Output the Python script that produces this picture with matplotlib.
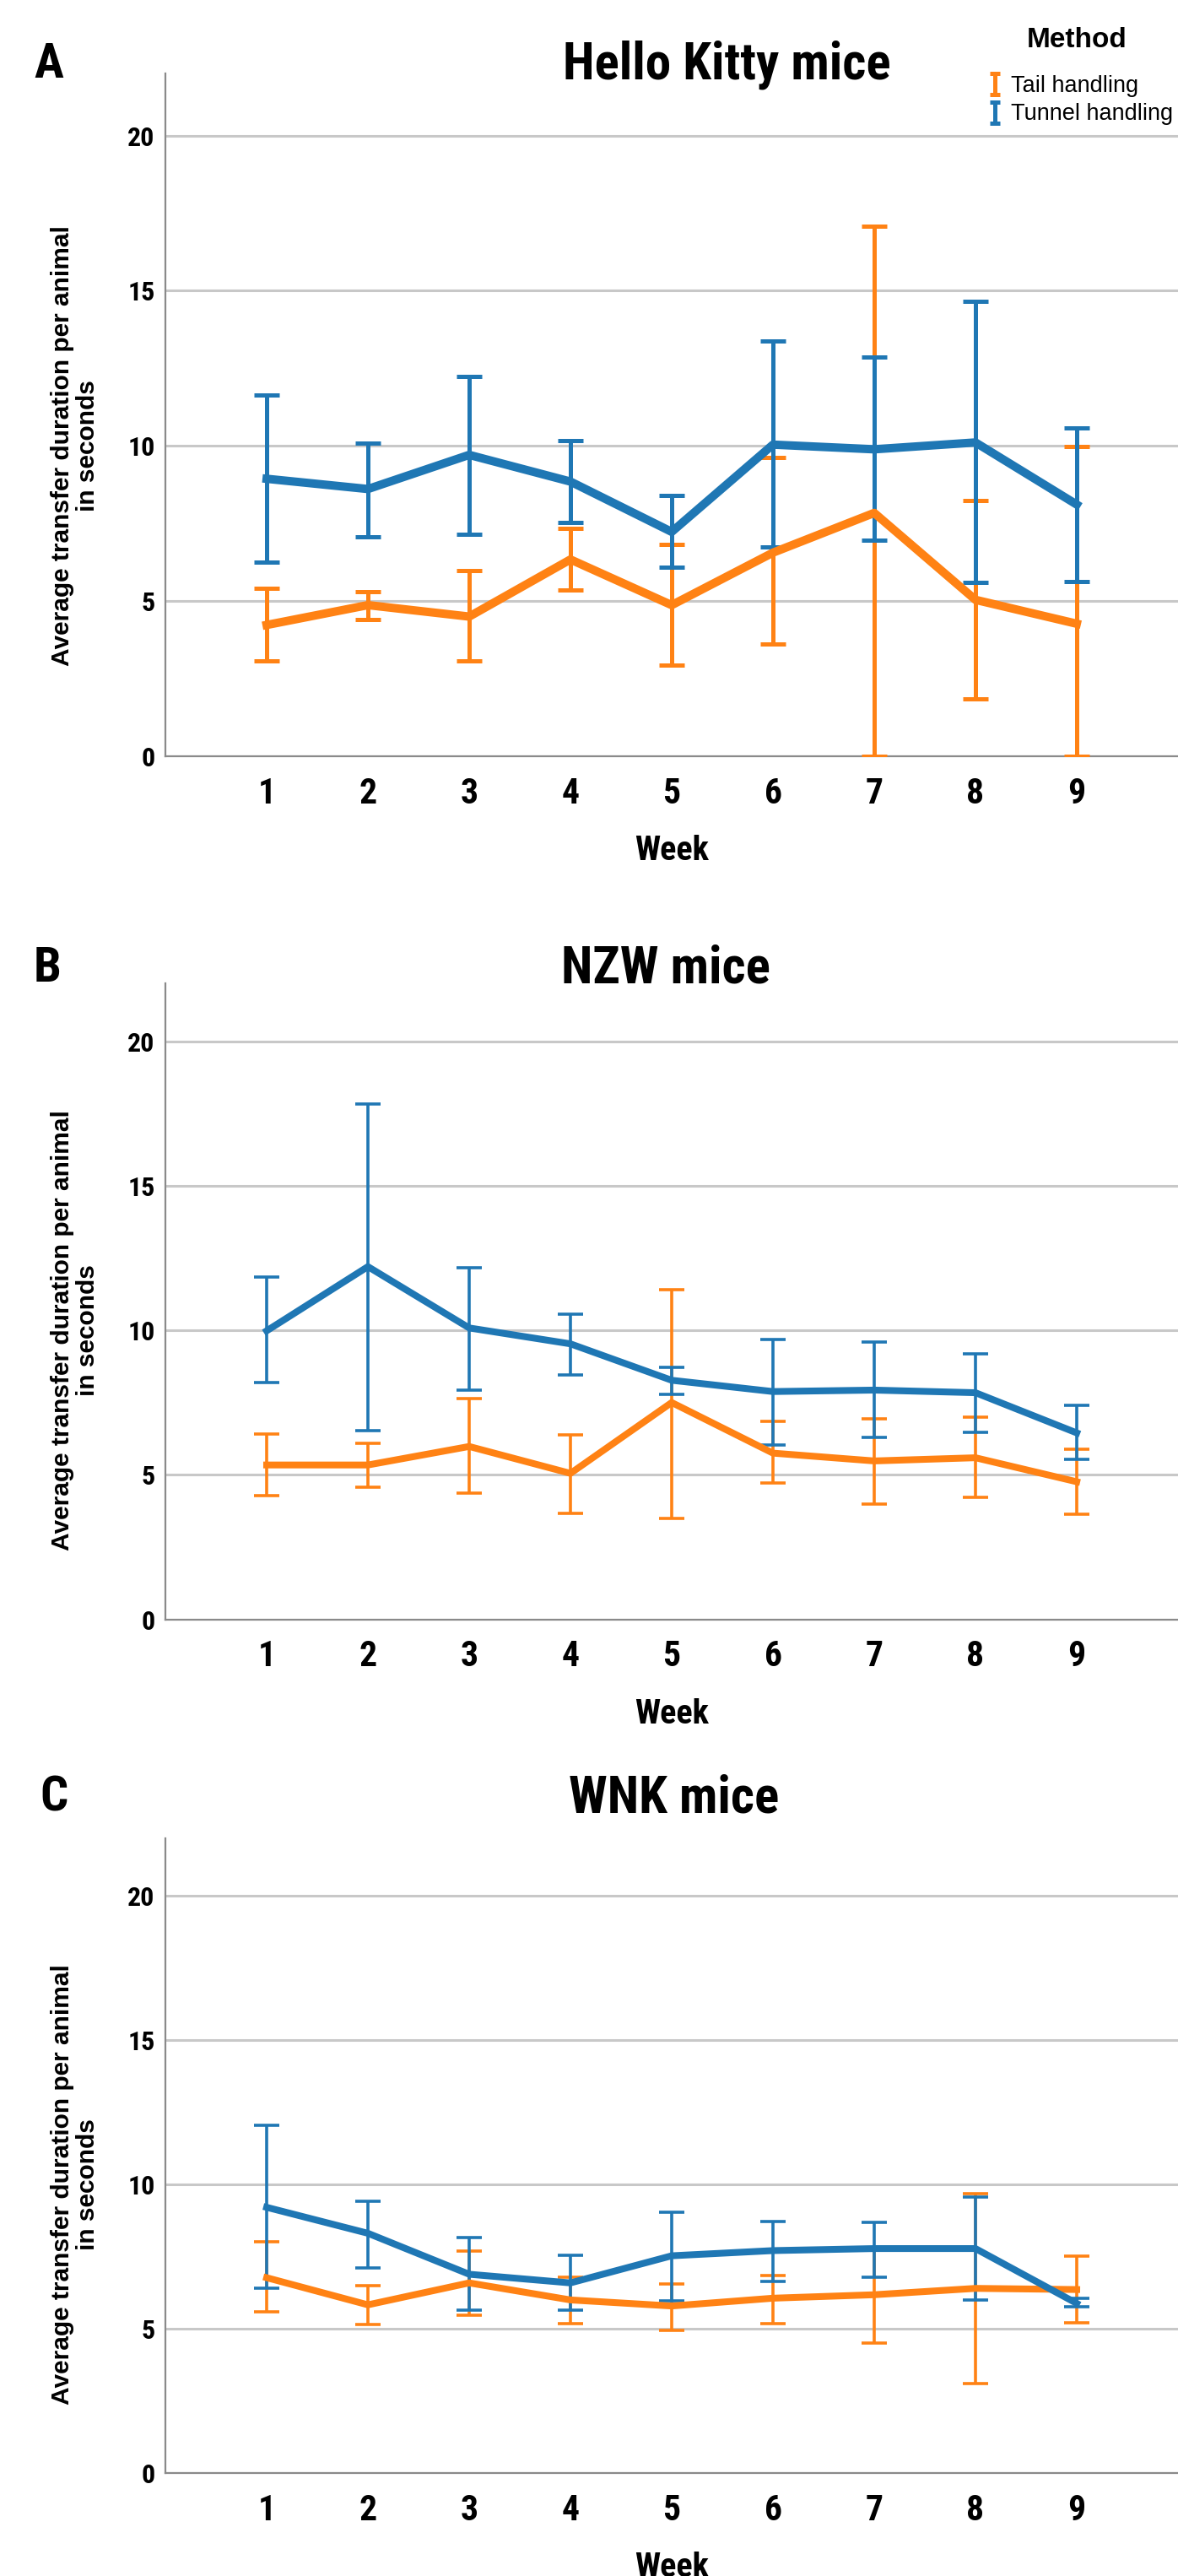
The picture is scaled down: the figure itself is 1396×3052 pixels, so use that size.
import os
import numpy as np
import matplotlib
matplotlib.use("Agg")
from matplotlib import pyplot as plt
from matplotlib import font_manager
from matplotlib.font_manager import FontProperties
from matplotlib.path import Path
from matplotlib.lines import Line2D

# Weeks on the x axis
weeks = [1, 2, 3, 4, 5, 6, 7, 8, 9]

# Panel A - Hello Kitty mice
hk_tail_mean = [4.23, 4.87, 4.50, 6.34, 4.87, 6.56, 7.84, 5.04, 4.27]
hk_tail_low = [3.08, 4.40, 3.08, 5.35, 2.93, 3.61, 0.00, 1.85, 0.00]
hk_tail_high = [5.40, 5.31, 5.97, 7.33, 6.83, 9.62, 17.09, 8.24, 9.98]
hk_tunnel_mean = [8.94, 8.61, 9.71, 8.85, 7.23, 10.04, 9.89, 10.11, 8.11]
hk_tunnel_low = [6.25, 7.07, 7.14, 7.53, 6.10, 6.74, 6.96, 5.59, 5.62]
hk_tunnel_high = [11.63, 10.09, 12.23, 10.16, 8.39, 13.37, 12.86, 14.65, 10.59]

# Panel B - NZW mice
nzw_tail_mean = [5.34, 5.34, 5.98, 5.05, 7.50, 5.75, 5.48, 5.59, 4.76]
nzw_tail_low = [4.27, 4.58, 4.37, 3.68, 3.49, 4.72, 4.00, 4.23, 3.63]
nzw_tail_high = [6.41, 6.08, 7.64, 6.37, 11.40, 6.84, 6.94, 7.00, 5.89]
nzw_tunnel_mean = [9.98, 12.20, 10.08, 9.53, 8.27, 7.88, 7.93, 7.84, 6.45]
nzw_tunnel_low = [8.19, 6.53, 7.93, 8.46, 7.78, 6.02, 6.28, 6.47, 5.54]
nzw_tunnel_high = [11.83, 17.82, 12.16, 10.57, 8.71, 9.67, 9.59, 9.18, 7.39]

# Panel C - WNK mice
wnk_tail_mean = [6.77, 5.83, 6.59, 6.00, 5.79, 6.06, 6.18, 6.40, 6.36]
wnk_tail_low = [5.58, 5.14, 5.47, 5.17, 4.94, 5.17, 4.50, 3.10, 5.21]
wnk_tail_high = [8.01, 6.50, 7.69, 6.80, 6.55, 6.86, 7.79, 9.67, 7.51]
wnk_tunnel_mean = [9.21, 8.31, 6.89, 6.59, 7.53, 7.71, 7.78, 7.78, 5.88]
wnk_tunnel_low = [6.40, 7.12, 5.65, 5.65, 5.97, 6.64, 6.80, 6.00, 5.76]
wnk_tunnel_high = [12.05, 9.42, 8.15, 7.56, 9.03, 8.72, 8.70, 9.58, 6.06]

yticks = [0, 5, 10, 15, 20]
orange = "#ff8214"
blue = "#1f77b4"
sans = ["Liberation Sans", "DejaVu Sans"]


# look for a condensed bold face among the installed fonts
def narrow_bold():
    wanted = ["liberationsansnarrow-bold.ttf", "robotocondensed-bold.ttf", "opensans-condbold.ttf",
              "opensanscondensed-bold.ttf", "dejavusanscondensed-bold.ttf", "notosans-condensedbold.ttf",
              "robotocondensed-bold", "condensed-bold", "narrow-bold", "condbold"]
    files = [f.fname for f in font_manager.fontManager.ttflist]
    for w in wanted:
        for fn in files:
            if w in os.path.basename(fn).lower():
                return fn
    return None


nb_file = narrow_bold()
scale = 1.0 if nb_file else 0.85


def nfont(size):
    if nb_file:
        return FontProperties(fname=nb_file, size=size)
    return FontProperties(family=sans, weight="bold", size=size * scale)


W, H = 1396, 3052
fig = plt.figure(figsize=(W / 100, H / 100), dpi=100)

panels = [
    dict(title="Hello Kitty mice", letter="A", top=87, bottom=896, title_xy=(861, 77), letter_xy=(58, 77),
         tail=(hk_tail_mean, hk_tail_low, hk_tail_high), tunnel=(hk_tunnel_mean, hk_tunnel_low, hk_tunnel_high),
         lw=7.2, elw=3.6),
    dict(title="NZW mice", letter="B", top=1165, bottom=1918.6, title_xy=(789, 1147), letter_xy=(56, 1147),
         tail=(nzw_tail_mean, nzw_tail_low, nzw_tail_high), tunnel=(nzw_tunnel_mean, nzw_tunnel_low, nzw_tunnel_high),
         lw=5.8, elw=2.6),
    dict(title="WNK mice", letter="C", top=2178, bottom=2930, title_xy=(799, 2130), letter_xy=(64, 2130),
         tail=(wnk_tail_mean, wnk_tail_low, wnk_tail_high), tunnel=(wnk_tunnel_mean, wnk_tunnel_low, wnk_tunnel_high),
         lw=5.8, elw=2.6),
]

left_px = 196
for p in panels:
    h_px = p["bottom"] - p["top"]
    ax = fig.add_axes([left_px / W, 1 - p["bottom"] / H, (W - left_px) / W, h_px / H])
    ax.set_xlim(0, 10)
    ax.set_ylim(0, 22)

    for (mean, low, high), col in [(p["tail"], orange), (p["tunnel"], blue)]:
        mean = np.array(mean)
        err = [mean - np.array(low), np.array(high) - mean]
        ax.errorbar(weeks, mean, yerr=err, fmt="none", ecolor=col, elinewidth=p["elw"],
                    capsize=10.8, capthick=p["elw"], zorder=3)
        ax.plot(weeks, mean, color=col, linewidth=p["lw"], solid_joinstyle="round", zorder=4)

    ax.set_yticks(yticks)
    ax.set_xticks(weeks)
    ax.grid(axis="y", color="#c8c8c8", linewidth=2.2, zorder=0)
    ax.set_axisbelow(True)
    for s in ["top", "right"]:
        ax.spines[s].set_visible(False)
    for s in ["left", "bottom"]:
        ax.spines[s].set_color("#8a8a8a")
        ax.spines[s].set_linewidth(1.6)
    ax.tick_params(axis="both", length=0)
    ax.tick_params(axis="y", pad=9)
    ax.tick_params(axis="x", pad=17)
    for t in ax.get_yticklabels():
        t.set_fontproperties(nfont(23))
    for t in ax.get_xticklabels():
        t.set_fontproperties(nfont(30))

    ax.set_xlabel("Week", fontproperties=nfont(29), va="center")
    ax.xaxis.set_label_coords(0.5, -112 / h_px)
    ax.set_ylabel("Average transfer duration per animal\nin seconds", family=sans, fontweight="bold",
                  fontsize=21.5, va="center", ha="center", linespacing=1.1)
    ax.yaxis.set_label_coords((89 - left_px) / (W - left_px), 10 / 22)

    fig.text(p["title_xy"][0] / W, 1 - p["title_xy"][1] / H, p["title"], fontproperties=nfont(44),
             ha="center", va="center")
    fig.text(p["letter_xy"][0] / W, 1 - p["letter_xy"][1] / H, p["letter"], fontproperties=nfont(42),
             ha="center", va="center")

# legend title and I-beam entries
fig.text(1276 / W, 1 - 47 / H, "Method", family=sans, fontweight="bold", fontsize=24,
         ha="center", va="center")
ibeam = Path([(-0.5, 1), (0.5, 1), (0, 1), (0, -1), (-0.5, -1), (0.5, -1)],
             [Path.MOVETO, Path.LINETO, Path.MOVETO, Path.LINETO, Path.MOVETO, Path.LINETO])
handles = [Line2D([], [], linestyle="none", marker=ibeam, markersize=18, markeredgewidth=3.6,
                  markerfacecolor="none", markeredgecolor=c) for c in (orange, blue)]
leg = fig.legend(handles, ["Tail handling", "Tunnel handling"], loc="upper left",
                 bbox_to_anchor=(1155 / W, 1 - 75 / H), frameon=False, borderpad=0,
                 handlelength=0.8, handletextpad=0.3, labelspacing=0.28,
                 prop=dict(family=sans, size=19.5))

fig.savefig("out.png", dpi=100)
